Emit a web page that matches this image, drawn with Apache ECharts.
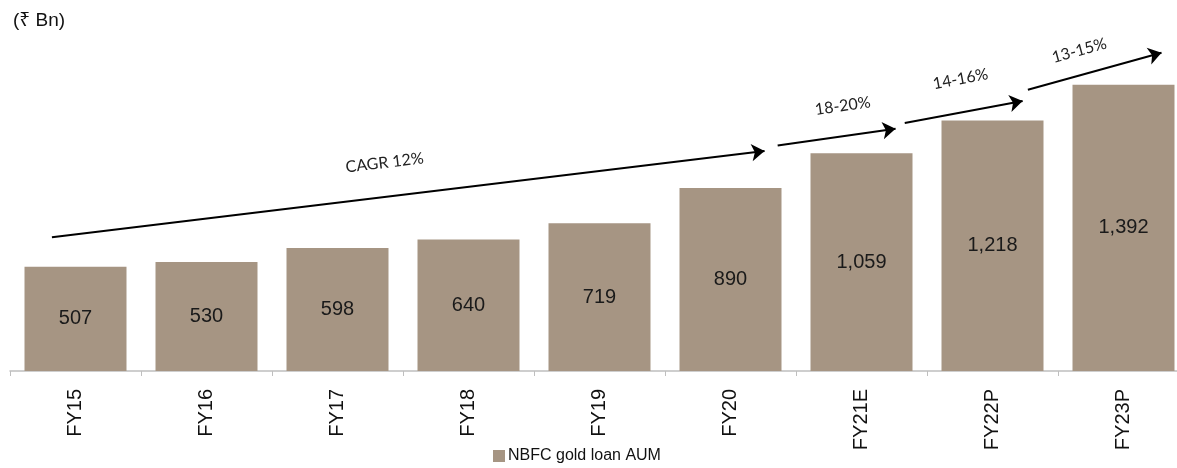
<!DOCTYPE html>
<html>
<head>
<meta charset="utf-8">
<script src="https://cdn.jsdelivr.net/npm/echarts@6/dist/echarts.min.js"></script>
<style>
  html, body { margin: 0; padding: 0; background: #ffffff; }
  #chart { width: 1177px; height: 468px; }
</style>
</head>
<body>
<div id="chart"></div>
<script>
// NBFC gold loan AUM (₹ Bn), actuals and projections
const categories = ['FY15', 'FY16', 'FY17', 'FY18', 'FY19', 'FY20', 'FY21E', 'FY22P', 'FY23P'];
const aumValues = [507, 530, 598, 640, 719, 890, 1059, 1218, 1392];
const seriesName = 'NBFC gold loan AUM';
const unitLabel = '(₹ Bn)';

// Growth arrows: [startIndex, startValue], [endIndex, endValue] on the category scale
const growthLabels = ['CAGR 12%', '18-20%', '14-16%', '13-15%'];
const growthStarts = [[-0.18, 650], [5.36, 1097], [6.33, 1206], [7.27, 1368]];
const growthEnds = [[5.26, 1070], [6.26, 1178], [7.23, 1313], [8.29, 1548]];
// label placement along each arrow: [distance from start, distance above line]
const growthLabelPos = [[300, 26], [42, 22], [35, 25], [32, 16]];

const FONT = '"Liberation Sans", Arial, "Noto Sans", "DejaVu Sans", sans-serif';
const NOTE_FONT = 'Lato, "Open Sans", sans-serif';
const BAR_COLOR = '#a69583';

const chart = echarts.init(document.getElementById('chart'), null, { renderer: 'canvas' });

const growthData = growthLabels.map((name, i) => ({
  name: name,
  coords: [growthStarts[i], growthEnds[i]],
  label: { distance: growthLabelPos[i] }
}));

chart.setOption({
  animation: false,
  backgroundColor: '#ffffff',
  title: {
    text: unitLabel,
    left: 8,
    top: 11,
    padding: [0, 5],
    textStyle: { fontFamily: FONT, fontSize: 19, fontWeight: 'normal', color: '#111' }
  },
  legend: {
    data: [seriesName],
    left: 493,
    top: 448,
    itemWidth: 12,
    itemHeight: 12,
    itemGap: 4,
    padding: 0,
    icon: 'rect',
    textStyle: { fontFamily: FONT, fontSize: 16, color: '#111', padding: [0, 0, 0, -2] }
  },
  // the last category runs slightly past the right edge of the canvas
  grid: { left: 10, width: 1179, top: 42, height: 329, containLabel: false, outerBoundsMode: 'none' },
  xAxis: [
    {
      type: 'category',
      data: categories,
      axisLine: { lineStyle: { color: '#bfbfbf', width: 1.5 } },
      axisTick: { show: true, length: 5, lineStyle: { color: '#bfbfbf' } },
      axisLabel: {
        rotate: 90,
        margin: 18,
        fontFamily: FONT,
        fontSize: 20,
        color: '#111'
      },
      splitLine: { show: false }
    },
    {
      type: 'value',
      min: -0.5,
      max: 8.5,
      show: false
    }
  ],
  yAxis: {
    type: 'value',
    min: 0,
    max: 1600,
    show: false,
    splitLine: { show: false }
  },
  series: [
    {
      name: seriesName,
      type: 'bar',
      data: aumValues,
      barWidth: 102,
      itemStyle: { color: BAR_COLOR },
      label: {
        show: true,
        position: 'inside',
        fontFamily: FONT,
        fontSize: 20,
        color: '#1a1a1a',
        formatter: p => p.value.toLocaleString('en-US')
      }
    },
    {
      name: 'growth',
      type: 'lines',
      coordinateSystem: 'cartesian2d',
      xAxisIndex: 1,
      yAxisIndex: 0,
      clip: false,
      symbol: ['none', 'arrow'],
      symbolSize: 13,
      lineStyle: { color: '#000', width: 2, opacity: 1, curveness: 0 },
      label: {
        show: true,
        position: 'insideStartTop',
        formatter: '{b}',
        fontFamily: NOTE_FONT,
        fontSize: 16,
        color: '#222'
      },
      emphasis: { disabled: true },
      data: growthData
    }
  ]
});
</script>
</body>
</html>
